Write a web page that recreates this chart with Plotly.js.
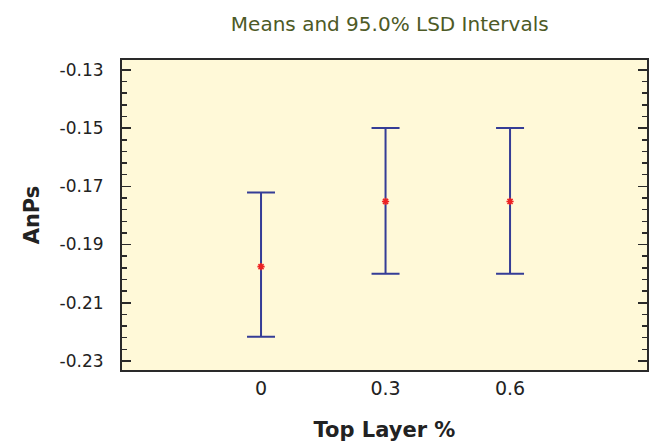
<!DOCTYPE html>
<html>
<head>
<meta charset="utf-8">
<script src="https://cdn.plot.ly/plotly-3.0.1.min.js"></script>
<style>html,body{margin:0;padding:0;background:#fff;}#chart{width:650px;height:442px;}</style>
</head>
<body>
<div id="chart"></div>
<script>
const levels = [0, 0.3, 0.6];
const levelLabels = ["0", "0.3", "0.6"];
const means = [-0.1976, -0.1752, -0.1752];
const upper = [-0.1721, -0.1500, -0.1500];
const lower = [-0.2217, -0.2000, -0.2000];
const yTickVals = [-0.13, -0.15, -0.17, -0.19, -0.21, -0.23];
const yTickText = ["-0.13", "-0.15", "-0.17", "-0.19", "-0.21", "-0.23"];

const errPlus = upper.map((u, i) => u - means[i]);
const errMinus = means.map((m, i) => m - lower[i]);

const FONT = 'DejaVu Sans, Liberation Sans, Arial, sans-serif';

const trace = {
  x: levels,
  y: means,
  type: 'scatter',
  mode: 'markers',
  marker: {symbol: 'asterisk', size: 6, color: '#ee2222', line: {color: '#ee2222', width: 1.6}},
  error_y: {type: 'data', symmetric: false, array: errPlus, arrayminus: errMinus,
            color: '#353d96', thickness: 2, width: 14},
  hoverinfo: 'skip'
};

const layout = {
  width: 650, height: 442,
  margin: {l: 122, r: 3, t: 60, b: 72},
  paper_bgcolor: '#ffffff',
  plot_bgcolor: '#fff9d8',
  showlegend: false,
  title: {text: 'Means and 95.0% LSD Intervals', x: 0.51, xref: 'paper', y: 0.945, yref: 'container', yanchor: 'middle',
          font: {family: FONT, size: 20, color: '#4d5a26'}},
  xaxis: {
    range: [-0.335, 0.93], tickvals: levels, ticktext: levelLabels,
    showgrid: false, zeroline: false, ticks: '',
    showline: true, linecolor: '#2a2a2a', linewidth: 2, mirror: true,
    tickfont: {family: FONT, size: 19, color: '#222'},
    ticklabelstandoff: 0,
    title: {text: 'Top Layer %', standoff: 26, font: {family: FONT, size: 21, color: '#222', weight: 'bold'}}
  },
  yaxis: {
    range: [-0.2331, -0.1266], tickvals: yTickVals, ticktext: yTickText,
    showgrid: false, zeroline: false,
    ticks: 'inside', ticklen: 9, tickwidth: 1.5, tickcolor: '#2a2a2a',
    minor: {dtick: 0.004, tick0: -0.13, ticks: 'inside', ticklen: 5, tickwidth: 1.5, tickcolor: '#2a2a2a', showgrid: false},
    showline: true, linecolor: '#2a2a2a', linewidth: 2, mirror: 'ticks',
    tickfont: {family: FONT, size: 17, color: '#222'},
    ticklabelstandoff: 13,
    title: {text: 'AnPs', standoff: 14, font: {family: FONT, size: 21, color: '#222', weight: 'bold'}}
  }
};

Plotly.newPlot('chart', [trace], layout, {staticPlot: true, displayModeBar: false});
</script>
</body>
</html>
